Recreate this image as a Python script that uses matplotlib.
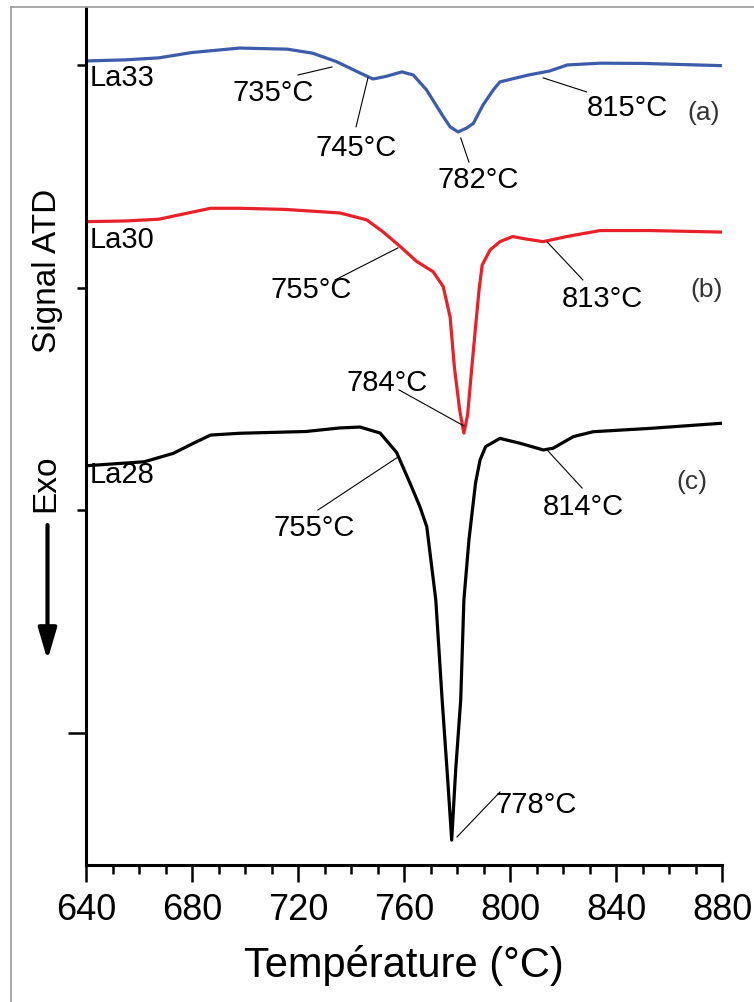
import numpy as np
import matplotlib
matplotlib.use('Agg')
import matplotlib.pyplot as plt
from matplotlib.lines import Line2D

plt.rcParams['font.family'] = ['Liberation Sans', 'DejaVu Sans']

# DTA curves (temperature in degC, signal in arbitrary units, curves offset)
T_la33 = [640, 655, 667.5, 680, 698, 716, 725.5, 734.5, 743.4, 748.3, 753, 759.2, 763.5,
          768.5, 774.8, 777.4, 780.4, 783.7, 786.2, 789.8, 793.7, 796.2, 807, 815, 821.6, 834, 850, 879.6]
S_la33 = [30.20, 30.25, 30.34, 30.58, 30.78, 30.73, 30.55, 30.17, 29.66, 29.39, 29.50, 29.71, 29.57,
          28.90, 27.70, 27.24, 27.01, 27.19, 27.40, 28.22, 28.90, 29.26, 29.57, 29.75, 30.02, 30.10, 30.09, 29.99]

T_la30 = [640, 655, 667.5, 677, 687, 698, 715, 735.8, 745.9, 752, 758.5, 764.8, 771, 774.8,
          777.4, 779, 781, 782.6, 784, 785.5, 787, 788.3, 789.5, 792.5, 796.2, 801, 806,
          812.5, 821.4, 834, 852.8, 879.9]
S_la30 = [22.98, 23.01, 23.09, 23.33, 23.58, 23.58, 23.53, 23.37, 23.06, 22.53, 21.87, 21.19, 20.73, 20.06,
          18.69, 16.46, 14.52, 13.48, 14.29, 16.31, 18.25, 19.89, 21.03, 21.71, 22.08, 22.31, 22.20,
          22.08, 22.31, 22.58, 22.58, 22.51]

T_la28 = [640, 662, 673, 680, 687, 698, 723, 735.8, 743.4, 751, 757.2, 762.3, 766, 768.6, 772,
          774.4, 776.5, 778, 779.5, 781.4, 782.6, 784.5, 787, 788.7, 790.8, 796.2, 803.8,
          812.6, 816.3, 823.9, 831.4, 852.8, 879.9]
S_la28 = [12.01, 12.19, 12.57, 12.99, 13.39, 13.47, 13.55, 13.71, 13.75, 13.48, 12.61, 11.22, 10.17, 9.27, 5.98,
          1.48, -2.11, -4.81, -1.66, 1.48, 5.98, 8.67, 11.24, 12.27, 12.87, 13.24, 13.02,
          12.72, 12.80, 13.32, 13.54, 13.69, 13.92]

names = ['La33', 'La30', 'La28']
name_y = [29.44, 22.16, 11.6]
colors = ['#3c5ba9', '#e8202a', 'black']

# peak labels: text, point on curve, text position, line start
peaks = [
    ('735°C', (732.8, 29.93), (710.6, 28.76), (720.0, 29.57)),
    ('745°C', (746.4, 29.44), (741.9, 26.29), (741.9, 27.24)),
    ('782°C', (781.4, 26.74), (787.9, 24.85), (784.5, 25.66)),
    ('815°C', (812.5, 29.44), (844.2, 28.09), (828.9, 28.81)),
    ('755°C', (757.7, 21.80), (724.9, 19.91), (734.0, 20.36)),
    ('813°C', (814.0, 22.07), (834.7, 19.51), (827.5, 20.36)),
    ('784°C', (782.6, 13.80), (753.6, 15.73), (758.1, 15.42)),
    ('755°C', (757.7, 12.40), (726.0, 9.21), (727.5, 10.02)),
    ('814°C', (814.0, 12.72), (827.5, 10.16), (827.2, 11.01)),
]
panel = ['(a)', '(b)', '(c)']
panel_pos = [(873.2, 27.87), (874.0, 19.91), (868.7, 11.28)]

fig = plt.figure(figsize=(7.54, 10.02), dpi=100)
ax = fig.add_axes([86/754, 1-865/1002, (722-86)/754, (865-8)/1002])

for T, S, c in zip([T_la33, T_la30, T_la28], [S_la33, S_la30, S_la28], colors):
    ax.plot(T, S, color=c, lw=2.3, solid_joinstyle='round')

for n, y in zip(names, name_y):
    ax.text(641.3, y, n, fontsize=21, ha='left', va='center')

for lab, pt, tp, ls in peaks:
    ax.plot([ls[0], pt[0]], [ls[1], pt[1]], color='black', lw=0.8)
    ax.text(tp[0], tp[1], lab, fontsize=21, ha='center', va='center')

# 778 label sits right of its leader line
ax.plot([780.0, 796.2], [-4.67, -2.65], color='black', lw=0.8)
ax.text(794.5, -3.24, '778°C', fontsize=21, ha='left', va='center')

for p, (x, y) in zip(panel, panel_pos):
    ax.text(x, y, p, fontsize=19, ha='center', va='center', color='#333333')

ax.set_xlim(640, 880)
ax.set_ylim(-5.93, 32.58)
ax.set_xticks(np.arange(640, 881, 40))
ax.set_xticks(np.arange(640, 881, 10), minor=True)
ax.set_yticks([0])
ax.set_yticks([10, 20, 30], minor=True)
ax.set_yticklabels([])
ax.tick_params(axis='x', which='major', length=12.5, width=1.8, labelsize=26, pad=8)
ax.tick_params(axis='x', which='minor', length=6.5, width=1.8)
ax.tick_params(axis='y', which='major', length=13, width=1.8)
ax.tick_params(axis='y', which='minor', length=6.5, width=1.8)
for s in ['top', 'right']:
    ax.spines[s].set_visible(False)
for s in ['left', 'bottom']:
    ax.spines[s].set_linewidth(2.2)

ax.set_xlabel('Température (°C)', fontsize=30, labelpad=12)

fig.text(48/754, 1-271/1002, 'Signal ATD', fontsize=24, rotation=90, ha='center', va='center')
fig.text(46/754, 1-483/1002, 'Exo', fontsize=24, rotation=90, ha='center', va='center')
ax.annotate('', xy=(47.5/754, 1-660/1002), xytext=(47.5/754, 1-525/1002),
            xycoords='figure fraction', textcoords='figure fraction',
            arrowprops=dict(arrowstyle='-|>,head_width=0.28,head_length=0.95',
                            lw=3, color='black', mutation_scale=20, shrinkA=0, shrinkB=0))

# thin grey frame of the original figure
fig.add_artist(Line2D([11/754, 11/754], [0, 1-7/1002], color='#9a9a9a', lw=1.2))
fig.add_artist(Line2D([11/754, 1], [1-7/1002, 1-7/1002], color='#9a9a9a', lw=1.2))

fig.savefig('out.png', dpi=100)
